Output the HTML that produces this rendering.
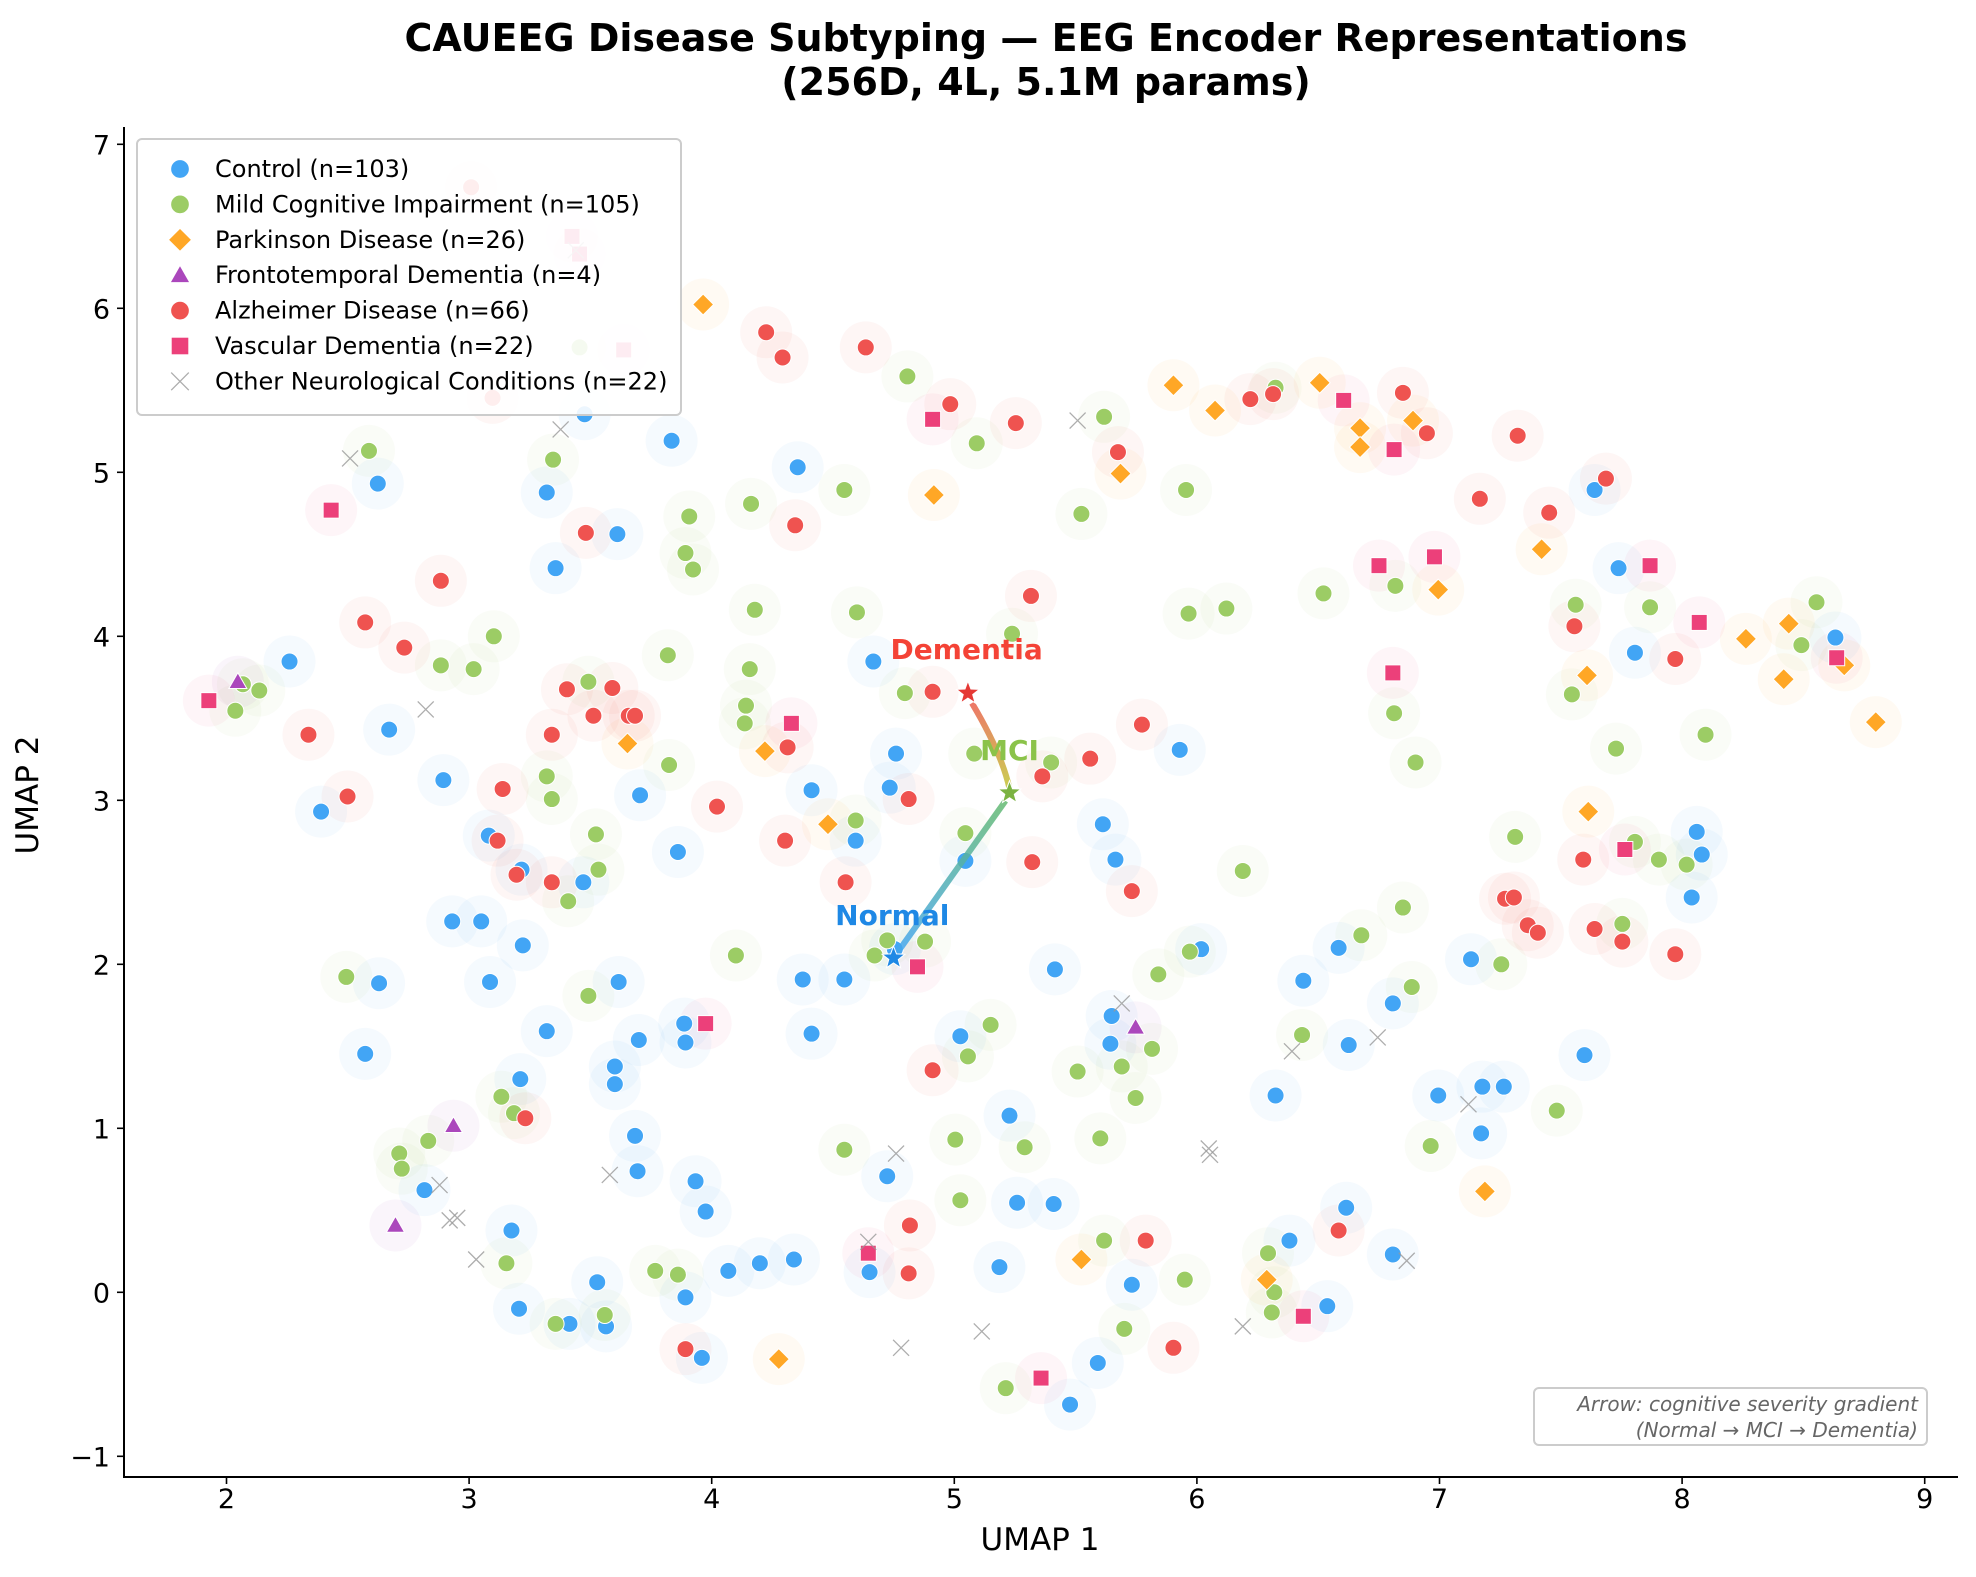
<!DOCTYPE html>
<html><head><meta charset="utf-8"><style>
html,body{margin:0;padding:0;background:#fff}
svg{display:block;font-family:"DejaVu Sans","Liberation Sans",sans-serif}
</style></head><body>
<svg id="s" width="1976" height="1577" viewBox="0 0 1976 1577" xmlns="http://www.w3.org/2000/svg">
<rect width="1976" height="1577" fill="#fff"/>
<g id="halo"></g>
<g id="pts"></g>
<g id="arrow"></g>
<line x1="124" y1="127" x2="124" y2="1477" stroke="#000" stroke-width="2"/>
<line x1="123" y1="1477" x2="1958" y2="1477" stroke="#000" stroke-width="2"/>
<g id="ticks" font-size="27" fill="#000"></g>
<text x="1040" y="1550" font-size="31" text-anchor="middle">UMAP 1</text>
<text x="0" y="0" font-size="31" text-anchor="middle" transform="translate(38,795) rotate(-90)">UMAP 2</text>
<text x="1046" y="51" font-size="38" font-weight="bold" text-anchor="middle">CAUEEG Disease Subtyping — EEG Encoder Representations</text>
<text x="1046" y="95" font-size="38" font-weight="bold" text-anchor="middle">(256D, 4L, 5.1M params)</text>
<g id="legend"></g>
<rect x="1534" y="1388" width="393" height="57" rx="5" fill="#fff" fill-opacity="0.85" stroke="#ccc" stroke-width="2"/>
<text x="1918" y="1411" font-size="20" font-style="italic" fill="#666" text-anchor="end">Arrow: cognitive severity gradient</text>
<text x="1918" y="1437" font-size="20" font-style="italic" fill="#666" text-anchor="end">(Normal → MCI → Dementia)</text>
</svg>
<script>
const NS="http://www.w3.org/2000/svg";
function X(p){return 226.5+((p-179)/192.4)*242.6}
function Y(p){return 1292.3-((1025-p)/130)*164}
function el(t,a,parent){const e=document.createElementNS(NS,t);for(const k in a)e.setAttribute(k,a[k]);(parent||document.getElementById('pts')).appendChild(e);return e}
const C={c:'#42a5f5',m:'#9ccc65',p:'#ffa726',f:'#ab47bc',a:'#ef5350',v:'#ec407a',o:'#aaaaaa'};
const data={
c:[[229,525],[254,644],[308,579],[299,384],[289,836],[300,780],[351,619],[358,731],[381,731],[388,779],[387,663],[413,690],[414,750],[433,818],[412,856],[405,976],[336,944],[411,1038],[451,1050],[473,1017],[480,1052],[487,846],[487,860],[490,779],[506,825],[505,929],[503,901],[507,631],[462,700],[433,391],[440,451],[463,329],[489,424],[532,350],[537,676],[542,812],[543,827],[543,1029],[551,937],[559,961],[556,1077],[577,1008],[602,1002],[629,999],[632,371],[636,777],[643,820],[643,627],[669,777],[678,667],[705,625],[710,598],[692,525],[689,1009],[703,933],[709,753],[761,822],[765,683],[792,1005],[800,885],[806,954],[835,955],[836,769],[848,1114],[870,1081],[897,1019],[880,828],[874,654],[881,806],[884,682],[935,595],[952,753],[1011,869],[1022,984],[1033,778],[1052,1036],[1067,958],[1069,829],[1061,752],[1104,796],[1104,995],[1140,869],[1166,761],[1174,899],[1175,862],[1192,862],[1256,837],[1264,389],[1283,451],[1296,518],[1341,712],[1345,660],[1349,678],[1455,506]],
m:[[186,564],[192,543],[205,548],[274,775],[292,358],[316,915],[318,927],[339,905],[349,528],[375,531],[391,505],[397,870],[401,1002],[407,883],[433,616],[437,634],[438,365],[450,715],[459,276],[466,541],[466,790],[472,662],[474,690],[479,1043],[519,1008],[530,607],[529,520],[537,1011],[543,439],[546,410],[549,452],[583,758],[590,574],[591,560],[594,531],[595,400],[598,484],[669,389],[669,912],[678,651],[679,486],[719,299],[717,550],[693,758],[703,746],[733,747],[757,904],[761,952],[765,661],[767,838],[772,598],[774,352],[785,813],[797,1101],[802,503],[812,910],[833,605],[854,850],[857,408],[875,331],[889,846],[891,1054],[875,984],[872,903],[900,871],[913,832],[918,773],[939,1015],[940,389],[942,487],[943,755],[972,483],[985,691],[1008,1041],[1005,994],[1010,1025],[1011,308],[1032,821],[1049,471],[1079,742],[1112,720],[1119,783],[1105,566],[1122,605],[1134,909],[1190,765],[1201,664],[1234,881],[1246,551],[1249,480],[1281,594],[1286,733],[1296,668],[1308,482],[1315,682],[1337,686],[1352,583],[1428,512],[1440,478],[440,1050],[1106,465]],
p:[[557,242],[497,590],[606,596],[656,654],[740,393],[888,376],[930,306],[963,326],[1046,304],[1078,340],[1078,355],[1120,334],[1140,468],[1222,436],[1258,536],[1259,644],[1384,507],[1418,495],[1414,539],[1462,528],[1487,573],[1177,945],[1004,1015],[857,999],[617,1078]],
f:[[188,541],[359,893],[313,972],[900,815]],
a:[[244,583],[275,632],[289,494],[320,514],[349,461],[373,149],[390,316],[398,626],[394,667],[409,694],[416,887],[437,583],[437,700],[449,547],[464,423],[470,568],[485,546],[498,568],[503,568],[568,640],[607,264],[620,284],[624,593],[622,667],[630,417],[686,276],[670,700],[720,634],[739,549],[739,849],[753,321],[805,336],[817,473],[818,684],[826,616],[864,602],[886,359],[897,707],[905,575],[930,1069],[991,317],[1009,313],[1112,312],[1131,344],[1173,396],[1203,346],[1228,407],[1248,497],[1273,380],[1193,713],[1211,734],[1219,740],[1255,682],[1264,737],[1286,747],[1328,757],[1328,523],[1061,976],[721,972],[720,1010],[908,984],[543,1070],[1200,712]],
v:[[165,556],[262,405],[453,188],[459,202],[494,278],[627,574],[739,333],[727,767],[559,812],[688,994],[825,1093],[1033,1044],[1065,318],[1105,357],[1093,449],[1137,442],[1104,534],[1308,449],[1288,674],[1347,494],[1456,522]],
o:[[277,364],[337,563],[444,341],[348,940],[377,999],[356,968],[362,966],[483,932],[710,915],[688,985],[714,1069],[778,1056],[854,334],[889,796],[958,911],[959,916],[1024,834],[1092,823],[1164,876],[1115,1000],[985,1052],[456,199]]
};
const halo=document.getElementById('halo');
for(const k in data){ if(k==='o')continue;
  for(const [a,b] of data[k]) el('circle',{cx:X(a),cy:Y(b),r:26,fill:C[k],'fill-opacity':0.055},halo);}
function marker(k,x,y,parent,s){s=s||1;
  if(k==='c'||k==='m'||k==='a') el('circle',{cx:x,cy:y,r:8.5*s,fill:C[k],stroke:'#fff','stroke-width':1},parent);
  else if(k==='p'){const r=10.5*s;el('polygon',{points:`${x},${y-r} ${x+r},${y} ${x},${y+r} ${x-r},${y}`,fill:C[k],stroke:'#fff','stroke-width':1},parent);}
  else if(k==='f'){const r=9*s;el('polygon',{points:`${x},${y-r} ${x+r},${y+r*0.75} ${x-r},${y+r*0.75}`,fill:C[k],stroke:'#fff','stroke-width':1},parent);}
  else if(k==='v'){const r=8*s;el('rect',{x:x-r,y:y-r,width:2*r,height:2*r,fill:C[k],stroke:'#fff','stroke-width':1},parent);}
  else {const r=8*s;el('path',{d:`M${x-r},${y-r}L${x+r},${y+r}M${x-r},${y+r}L${x+r},${y-r}`,stroke:'#999','stroke-width':1.3,'stroke-opacity':0.8},parent);}
}
for(const k of ['c','m','p','f','a','v','o']) for(const [a,b] of data[k]) marker(k,X(a),Y(b));
const ar=document.getElementById('arrow');
const nx=X(708),ny=Y(760),mx=X(800),my=Y(629),dx=X(767),dy=Y(550);
const defs=el('defs',{},ar);
const g=el('linearGradient',{id:'g1',x1:nx,y1:ny,x2:mx,y2:my,gradientUnits:'userSpaceOnUse'},defs);
el('stop',{offset:'0','stop-color':'#42a5f5'},g);el('stop',{offset:'1','stop-color':'#66bb6a'},g);
const g2=el('linearGradient',{id:'g2',x1:mx,y1:my,x2:dx,y2:dy,gradientUnits:'userSpaceOnUse'},defs);
el('stop',{offset:'0','stop-color':'#c0ca33'},g2);el('stop',{offset:'1','stop-color':'#ef5350'},g2);
el('line',{x1:nx,y1:ny,x2:mx-4,y2:my+8,stroke:'url(#g1)','stroke-width':6,'stroke-opacity':0.85},ar);
el('path',{d:`M${mx},${my-4} Q${mx-8},${my-40} ${dx+4},${dy+10}`,stroke:'url(#g2)','stroke-width':6,fill:'none','stroke-opacity':0.85},ar);
function star(x,y,c){let p=[];for(let i=0;i<10;i++){const r=i%2?5:12;const t=-Math.PI/2+i*Math.PI/5;p.push((x+r*Math.cos(t)).toFixed(1)+','+(y+r*Math.sin(t)).toFixed(1));}el('polygon',{points:p.join(' '),fill:c,stroke:'#fff','stroke-width':1},ar);}
star(nx,ny,'#1e88e5');star(mx,my,'#7cb342');star(dx,dy,'#e53935');
el('text',{x:X(707),y:Y(734),'font-size':28,'font-weight':'bold',fill:'#1e88e5','text-anchor':'middle'},ar).textContent='Normal';
el('text',{x:X(800),y:Y(603),'font-size':28,'font-weight':'bold',fill:'#8bc34a','text-anchor':'middle'},ar).textContent='MCI';
el('text',{x:X(766),y:Y(523),'font-size':28,'font-weight':'bold',fill:'#f44336','text-anchor':'middle'},ar).textContent='Dementia';
const tk=document.getElementById('ticks');
for(let v=2;v<=9;v++){const x=226.5+(v-2)*242.6;el('line',{x1:x,y1:1477,x2:x,y2:1484,stroke:'#000','stroke-width':1.6},tk);el('text',{x:x,y:1508,'text-anchor':'middle'},tk).textContent=v;}
for(let v=-1;v<=7;v++){const y=1292.3-v*164;el('line',{x1:117,y1:y,x2:124,y2:y,stroke:'#000','stroke-width':1.6},tk);el('text',{x:110,y:y+10,'text-anchor':'end'},tk).textContent=(v<0?'−1':v);}
const lg=document.getElementById('legend');
el('rect',{x:137,y:139,width:544,height:276,rx:5,fill:'#fff','fill-opacity':0.9,stroke:'#ccc','stroke-width':2},lg);
const L=[['c','Control (n=103)'],['m','Mild Cognitive Impairment (n=105)'],['p','Parkinson Disease (n=26)'],['f','Frontotemporal Dementia (n=4)'],['a','Alzheimer Disease (n=66)'],['v','Vascular Dementia (n=22)'],['o','Other Neurological Conditions (n=22)']];
L.forEach(([k,t],i)=>{const y=169+i*35.4;marker(k,180,y,lg,1.1);el('text',{x:215,y:y+8,'font-size':24,fill:'#000'},lg).textContent=t;});
</script>
</body></html>
